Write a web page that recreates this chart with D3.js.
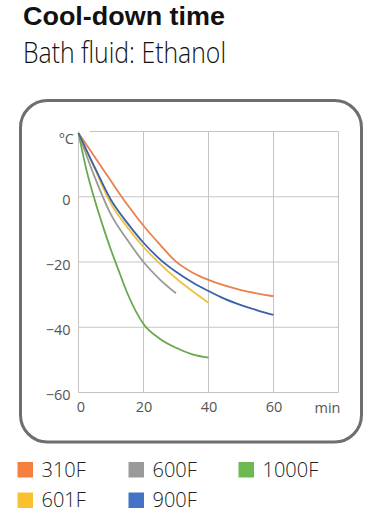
<!DOCTYPE html>
<html><head><meta charset="utf-8">
<script src="https://cdn.jsdelivr.net/npm/d3@7"></script>
<style>html,body{margin:0;padding:0;background:#fff;}svg{display:block;}</style>
</head><body>
<script>
const title = "Cool-down time";
const subtitle = "Bath fluid: Ethanol";
const xTicks = [0, 20, 40, 60];
const yTicks = [0, -20, -40, -60];
const xUnit = "min";
const yUnit = "°C";
const seriesNames = ["310F", "600F", "1000F", "601F", "900F"];
const lineColors = ["#e8804f", "#999999", "#6aa84f", "#f0c040", "#3a62a8"];
const legendColors = ["#f5803e", "#9a9a9a", "#6cb94f", "#f7c12f", "#4472c4"];
const t310F = [0, 5, 10, 15, 20, 25, 30, 35, 40, 50, 60];
const v310F = [19.5, 12.2, 4.8, -2.4, -8.9, -14.6, -19.9, -23.2, -25.5, -28.6, -30.5];
const t600F = [0, 5, 10, 15, 20, 25, 30];
const v600F = [19.5, 6, -5.5, -13.2, -20, -25.3, -29.6];
const t1000F = [0, 2.5, 5, 7.5, 10, 12.5, 15, 20, 25, 30, 35, 40];
const v1000F = [19.5, 8, -1, -9, -16.3, -23, -29.5, -39, -43.5, -46.3, -48.3, -49.3];
const t601F = [0, 5, 10, 15, 20, 25, 30, 35, 40];
const v601F = [19.5, 8.6, -2.2, -9.3, -15.4, -20.5, -25, -28.9, -32.5];
const t900F = [0, 5, 10, 15, 20, 25, 30, 35, 40, 45, 50, 55, 60];
const v900F = [19.5, 9, -1, -8, -14.1, -19.1, -23, -26.2, -28.9, -31.3, -33.2, -34.8, -36.2];

const series = [
  {name: "310F", t: t310F, v: v310F},
  {name: "600F", t: t600F, v: v600F},
  {name: "1000F", t: t1000F, v: v1000F},
  {name: "601F", t: t601F, v: v601F},
  {name: "900F", t: t900F, v: v900F}
];

const W = 384, H = 513;
const svg = d3.select("body").append("svg").attr("width", W).attr("height", H);
const FONT = "'Open Sans', 'DejaVu Sans', sans-serif";
const TITLE_FONT = "'Liberation Sans', Arial, sans-serif";

function fitText(sel, width) {
  const w = sel.node().getComputedTextLength();
  if (w > 0) sel.attr("textLength", width).attr("lengthAdjust", "spacingAndGlyphs");
}

const t1 = svg.append("text").attr("x", 23).attr("y", 25).attr("font-family", TITLE_FONT)
  .attr("font-weight", "bold").attr("font-size", 26.5).attr("fill", "#111").text(title);
fitText(t1, 202);
const t2 = svg.append("text").attr("x", 23).attr("y", 63).attr("font-family", FONT)
  .attr("font-weight", 300).attr("font-size", 30).attr("fill", "#111").text(subtitle);
fitText(t2, 203);

// frame
svg.append("rect").attr("x", 20.5).attr("y", 100.5).attr("width", 341).attr("height", 341.5)
  .attr("rx", 27).attr("ry", 27).attr("fill", "#fff").attr("stroke", "#6e6e6e").attr("stroke-width", 3);

const x = d3.scaleLinear().domain([0, 80]).range([78.5, 338.5]);
const y = d3.scaleLinear().domain([-60, 20]).range([392.5, 131.5]);

const g = svg.append("g");
// grid
const gridV = [0, 20, 40, 60, 80];
g.selectAll("line.gv").data(gridV).join("line")
  .attr("x1", d => x(d)).attr("x2", d => x(d)).attr("y1", y(20)).attr("y2", y(-60))
  .attr("stroke", "#c4c4c4").attr("stroke-width", 1);
const gridH = [20, 0, -20, -40, -60];
g.selectAll("line.gh").data(gridH).join("line")
  .attr("x1", d => d === 20 ? x(3.5) : x(0)).attr("x2", x(80)).attr("y1", d => y(d)).attr("y2", d => y(d))
  .attr("stroke", "#c4c4c4").attr("stroke-width", 1);

// axes labels via d3 axes
const yAxis = d3.axisLeft(y).tickValues(yTicks).tickSize(0).tickPadding(8).tickFormat(d3.format("d"));
const ya = svg.append("g").attr("transform", `translate(${x(0)},0)`).call(yAxis);
ya.select(".domain").remove();
ya.selectAll("text").attr("font-family", FONT).attr("font-size", 14.5).attr("fill", "#555").attr("dy", "0.5em");
const xAxis = d3.axisBottom(x).tickValues(xTicks).tickSize(0).tickPadding(9).tickFormat(d3.format("d"));
const xa = svg.append("g").attr("transform", `translate(0,${y(-60)})`).call(xAxis);
xa.select(".domain").remove();
xa.selectAll("text").attr("font-family", FONT).attr("font-size", 14.5).attr("fill", "#555")
  .attr("dx", d => d === 0 ? 2 : 0);
svg.append("text").attr("x", x(80) + 2).attr("y", 413).attr("text-anchor", "end")
  .attr("font-family", FONT).attr("font-size", 14.5).attr("fill", "#555").text(xUnit);
svg.append("text").attr("x", 74).attr("y", 144).attr("text-anchor", "end")
  .attr("font-family", FONT).attr("font-size", 14.5).attr("fill", "#555").text(yUnit);

// lines
const line = d3.line().x(d => x(d[0])).y(d => y(d[1])).curve(d3.curveMonotoneX);
series.forEach((s, i) => {
  svg.append("path").datum(s.t.map((tt, j) => [tt, s.v[j]]))
    .attr("d", line).attr("fill", "none").attr("stroke", lineColors[i]).attr("stroke-width", 1.8);
});

// legend
const legPos = [[17.5, 462], [128.5, 462], [238.5, 462], [17.5, 492.5], [128.5, 492.5]];
seriesNames.forEach((n, i) => {
  const [lx, ly] = legPos[i];
  svg.append("rect").attr("x", lx).attr("y", ly).attr("width", 15.5).attr("height", 15.5).attr("fill", legendColors[i]);
  svg.append("text").attr("x", lx + 24).attr("y", ly + 14.5).attr("font-family", FONT)
    .attr("font-weight", 300).attr("font-size", 20).attr("fill", "#222").text(n);
});
</script>
</body></html>
